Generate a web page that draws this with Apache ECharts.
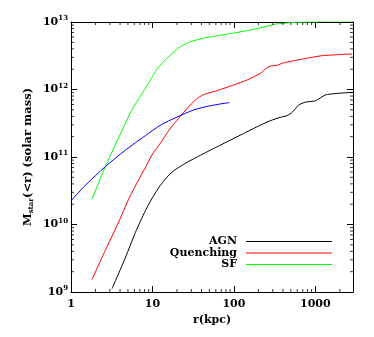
<!DOCTYPE html>
<html>
<head>
<meta charset="utf-8">
<script src="https://cdn.jsdelivr.net/npm/echarts@6/dist/echarts.min.js"></script>
<style>html,body{margin:0;padding:0;background:#fff}#c{width:374px;height:337px}</style>
</head>
<body>
<div id="c"></div>
<script>
// ---- data (radius in kpc, enclosed stellar mass in solar masses) ----
var agnR  = [3.19, 4.64, 6.17, 8.18, 10, 12.5, 15, 18, 21, 25, 35.3, 56.5, 90.6, 145, 212, 256, 350, 450, 520, 625, 756, 1000, 1330, 1750, 2900];
var agnM  = [1.12e9, 3.2e9, 7.6e9, 1.6e10, 2.5e10, 3.8e10, 5.0e10, 6.2e10, 7.0e10, 8.0e10, 1.0e11, 1.34e11, 1.78e11, 2.37e11, 2.97e11, 3.3e11, 3.8e11, 4.1e11, 4.6e11, 5.9e11, 6.5e11, 6.8e11, 8.3e11, 8.7e11, 9.1e11];
var queR  = [1.81, 2.64, 3.85, 5.1, 6.5, 8.18, 10, 12.5, 16, 20, 25, 32, 38, 45, 62, 100, 145, 212, 268, 355, 391, 625, 1213, 2830];
var queM  = [1.53e9, 4.16e9, 1.09e10, 2.37e10, 4.2e10, 7.0e10, 1.1e11, 1.6e11, 2.5e11, 3.5e11, 4.8e11, 6.6e11, 7.8e11, 8.6e11, 9.6e11, 1.17e12, 1.38e12, 1.74e12, 2.18e12, 2.31e12, 2.45e12, 2.76e12, 3.17e12, 3.36e12];
var sfR   = [1.81, 2.64, 5.35, 6.65, 8.18, 10.86, 12.5, 14.4, 16.6, 22, 29.2, 42.6, 82.5, 145, 212, 324, 569, 910, 1500, 2900];
var sfM   = [2.37e10, 7.2e10, 4.5e11, 7.0e11, 1.04e12, 1.84e12, 2.31e12, 2.75e12, 3.24e12, 4.3e12, 5.1e12, 5.76e12, 6.6e12, 7.45e12, 8.2e12, 9.3e12, 9.9e12, 1.0e13, 1.03e13, 1.02e13];
var blueR = [1, 1.5, 2.64, 4.64, 8.18, 12.5, 20, 32, 51.4, 88];
var blueM = [2.25e10, 3.8e10, 7.2e10, 1.26e11, 2.07e11, 2.95e11, 3.9e11, 4.97e11, 5.75e11, 6.4e11];
var seriesNames = ['AGN', 'Quenching', 'SF'];
var xMinorTicks = [2,3,4,5,6,7,8,9,20,30,40,50,60,70,80,90,200,300,400,500,600,700,800,900,2000];
var yMinorTicks = [2e9,3e9,4e9,5e9,6e9,7e9,8e9,9e9,2e10,3e10,4e10,5e10,6e10,7e10,8e10,9e10,2e11,3e11,4e11,5e11,6e11,7e11,8e11,9e11,2e12,3e12,4e12,5e12,6e12,7e12,8e12,9e12];
var xMin = 1, xMax = 2900, yMin = 1e9, yMax = 1e13;

function pairs(a, b) { return a.map(function (v, i) { return [v, b[i]]; }); }

var FONT = 'DejaVu Serif';
var chart = echarts.init(document.getElementById('c'), null, {renderer: 'canvas'});

function supLabel(v) {
  var e = Math.round(Math.log10(v));
  return '{b|10}{s|' + e + '}';
}
function xLabel(v) { return String(Math.round(v)); }

function axisBase() {
  return {
    axisLine: {show: true, onZero: false, lineStyle: {color: '#000', width: 1}},
    axisTick: {show: true, inside: true, length: 6, lineStyle: {color: '#000', width: 1}},
    splitLine: {show: false},
    minorTick: {show: false}
  };
}

function tickSeries(data, size, offset) {
  return {type: 'scatter', silent: true, clip: false, symbol: 'rect', symbolSize: size,
    symbolOffset: offset, itemStyle: {color: '#000'}, data: data, z: 5};
}

var lineCommon = {type: 'line', showSymbol: false, symbol: 'none', smooth: 0.2, clip: true};

var option = {
  animation: false,
  backgroundColor: '#fff',
  grid: {left: 71, right: 21, top: 22, bottom: 45, containLabel: false},
  legend: {
    data: seriesNames,
    orient: 'vertical',
    align: 'right',
    right: 37,
    top: 231,
    icon: 'rect',
    itemWidth: 86,
    itemHeight: 1,
    itemGap: 0.5,
    textStyle: {fontFamily: FONT, fontWeight: 'bold', fontSize: 11, color: '#000', padding: [0, 4, 0, 0]}
  },
  xAxis: [
    Object.assign(axisBase(), {
      type: 'log', logBase: 10, min: xMin, max: xMax, position: 'bottom',
      name: 'r(kpc)', nameLocation: 'middle', nameGap: 20,
      nameTextStyle: {fontFamily: FONT, fontWeight: 'bold', fontSize: 11, color: '#000'},
      axisLabel: {show: true, margin: 7, showMaxLabel: false, formatter: xLabel,
        fontFamily: FONT, fontWeight: 'bold', fontSize: 11, color: '#000'}
    }),
    Object.assign(axisBase(), {
      type: 'log', logBase: 10, min: xMin, max: xMax, position: 'top',
      axisLabel: {show: false}
    })
  ],
  yAxis: [
    Object.assign(axisBase(), {
      type: 'log', logBase: 10, min: yMin, max: yMax, position: 'left',
      name: 'M{sub|star}(<r) (solar mass)', nameLocation: 'middle', nameRotate: 90, nameGap: 36,
      nameMoveOverlap: false,
      nameTextStyle: {fontFamily: FONT, fontWeight: 'bold', fontSize: 11.5, color: '#000',
        rich: {sub: {fontFamily: FONT, fontWeight: 'bold', fontSize: 7, color: '#000', padding: [7, 0, 0, 0]}}},
      axisLabel: {show: true, margin: 3, formatter: supLabel,
        rich: {
          b: {fontFamily: FONT, fontWeight: 'bold', fontSize: 11, color: '#000'},
          s: {fontFamily: FONT, fontWeight: 'bold', fontSize: 7, color: '#000', padding: [0, 0, 7, 0]}
        }}
    }),
    Object.assign(axisBase(), {
      type: 'log', logBase: 10, min: yMin, max: yMax, position: 'right',
      axisLabel: {show: false}
    })
  ],
  series: [
    Object.assign({}, lineCommon, {name: 'AGN', data: pairs(agnR, agnM),
      lineStyle: {color: '#000000', width: 1}, itemStyle: {color: '#000000'}}),
    Object.assign({}, lineCommon, {name: 'Quenching', data: pairs(queR, queM),
      lineStyle: {color: '#ff0000', width: 1}, itemStyle: {color: '#ff0000'}}),
    Object.assign({}, lineCommon, {name: 'SF', data: pairs(sfR, sfM),
      lineStyle: {color: '#00ff00', width: 1}, itemStyle: {color: '#00ff00'}}),
    Object.assign({}, lineCommon, {name: 'blue', smooth: 0.3, data: pairs(blueR, blueM),
      lineStyle: {color: '#0000ff', width: 1}, itemStyle: {color: '#0000ff'}}),
    tickSeries(xMinorTicks.map(function (v) { return [v, yMin]; }), [1, 3], [0, -1.5]),
    tickSeries(xMinorTicks.map(function (v) { return [v, yMax]; }), [1, 3], [0, 1.5]),
    tickSeries(yMinorTicks.map(function (v) { return [xMin, v]; }), [3, 1], [1.5, 0]),
    tickSeries(yMinorTicks.map(function (v) { return [xMax, v]; }), [3, 1], [-1.5, 0])
  ]
};
chart.setOption(option);
</script>
</body>
</html>
